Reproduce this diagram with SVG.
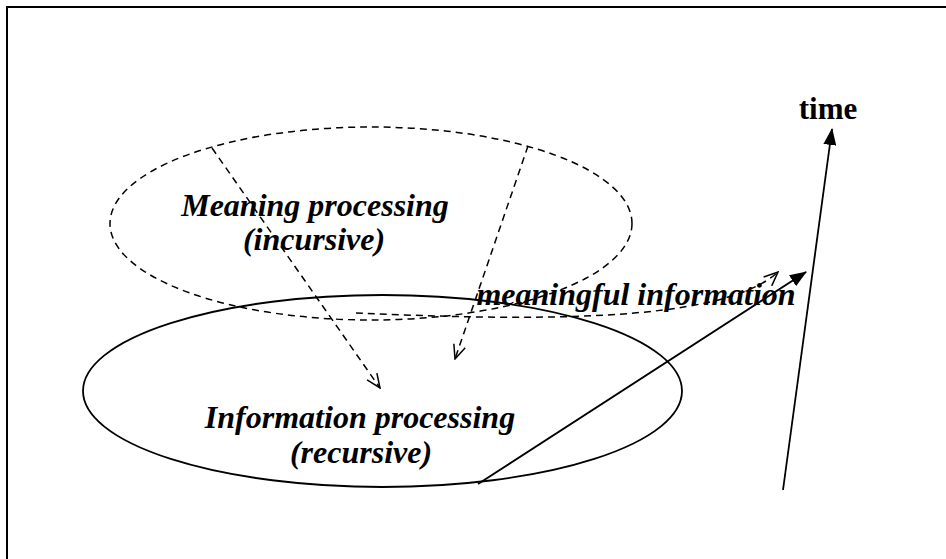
<svg xmlns="http://www.w3.org/2000/svg" width="946" height="559" viewBox="0 0 946 559">
  <style>
    .lbl { font-family: "Liberation Serif", "Times New Roman", serif; font-size: 32px; font-weight: bold; font-style: italic; fill: #000; text-anchor: middle; }
    .time { font-family: "Liberation Serif", "Times New Roman", serif; font-size: 31px; font-weight: bold; fill: #000; text-anchor: middle; }
    .dash { fill: none; stroke: #000; stroke-width: 1.5; stroke-dasharray: 7 5; }
    .solid { fill: none; stroke: #000; stroke-width: 1.8; }
  </style>
  <defs>
    <marker id="openHead" viewBox="0 0 16 14" refX="15" refY="7" markerWidth="16" markerHeight="14" markerUnits="userSpaceOnUse" orient="auto">
      <path d="M1 1 L15 7 L1 13" fill="none" stroke="#000" stroke-width="1.5"/>
    </marker>
    <marker id="fillHead" viewBox="0 0 17 13" refX="16" refY="6.5" markerWidth="17" markerHeight="13" markerUnits="userSpaceOnUse" orient="auto">
      <path d="M0 0 L17 6.5 L0 13 Z" fill="#000"/>
    </marker>
  </defs>
  <rect width="946" height="559" fill="#fff"/>
  <g id="frame">
    <path d="M7 559 L7 7 L946 7" fill="none" stroke="#000" stroke-width="2"/>
  </g>
  <g id="meaning">
    <ellipse class="dash" cx="371" cy="223.5" rx="261" ry="96.5"/>
    <text class="lbl" x="315" y="216">Meaning processing</text>
    <text class="lbl" x="314" y="250">(incursive)</text>
  </g>
  <g id="information">
    <ellipse class="solid" cx="382.5" cy="391" rx="299.5" ry="96"/>
    <text class="lbl" x="360" y="428">Information processing</text>
    <text class="lbl" x="361" y="463">(recursive)</text>
  </g>
  <g id="time">
    <text class="time" x="828" y="119">time</text>
  </g>
  <g id="connectors">
    <line class="dash" x1="212" y1="148" x2="380" y2="388" marker-end="url(#openHead)"/>
    <line class="dash" x1="528" y1="146" x2="455" y2="359" marker-end="url(#openHead)"/>
    <path class="dash" d="M356 313 C520 320 720 325 778 272" marker-end="url(#openHead)"/>
    <line class="solid" x1="478" y1="484" x2="806" y2="272" marker-end="url(#fillHead)"/>
    <line class="solid" x1="783" y1="490" x2="832" y2="129" marker-end="url(#fillHead)"/>
  </g>
  <g id="meaningful-label">
    <text class="lbl" x="636" y="305">meaningful information</text>
  </g>
</svg>
